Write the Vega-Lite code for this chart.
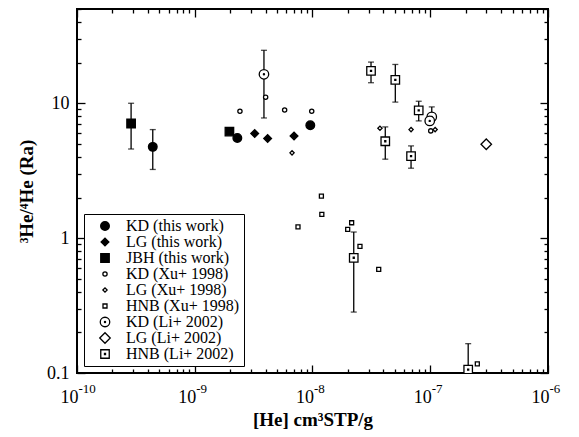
{
  "$schema": "https://vega.github.io/schema/vega-lite/v6.json",
  "width": 471,
  "height": 364,
  "autosize": "none",
  "padding": {"left": 77, "top": 9, "right": 31, "bottom": 64},
  "background": "white",
  "config": {
    "view": {"stroke": "black", "strokeWidth": 2},
    "font": "Liberation Serif",
    "axis": {"labelFont": "Liberation Serif", "titleFont": "Liberation Serif", "labelColor": "black", "titleColor": "black", "tickColor": "black", "grid": false, "domain": false, "tickWidth": 1.3}
  },
  "datasets": {
    "pts": [
      {"series": "KD (this work)", "he": 4.4e-10, "ratio": 4.75},
      {"series": "KD (this work)", "he": 2.3e-9, "ratio": 5.53},
      {"series": "KD (this work)", "he": 9.58e-9, "ratio": 6.87},
      {"series": "LG (this work)", "he": 3.23e-9, "ratio": 5.96},
      {"series": "LG (this work)", "he": 4.16e-9, "ratio": 5.48},
      {"series": "LG (this work)", "he": 6.97e-9, "ratio": 5.72},
      {"series": "JBH (this work)", "he": 2.88e-10, "ratio": 7.08},
      {"series": "JBH (this work)", "he": 1.97e-9, "ratio": 6.17},
      {"series": "KD (Xu+ 1998)", "he": 2.42e-9, "ratio": 8.73},
      {"series": "KD (Xu+ 1998)", "he": 4.0e-9, "ratio": 11.1},
      {"series": "KD (Xu+ 1998)", "he": 5.8e-9, "ratio": 8.92},
      {"series": "KD (Xu+ 1998)", "he": 9.85e-9, "ratio": 8.73},
      {"series": "KD (Xu+ 1998)", "he": 1.01e-7, "ratio": 6.24},
      {"series": "LG (Xu+ 1998)", "he": 6.7e-9, "ratio": 4.29},
      {"series": "LG (Xu+ 1998)", "he": 3.74e-8, "ratio": 6.53},
      {"series": "LG (Xu+ 1998)", "he": 6.87e-8, "ratio": 6.38},
      {"series": "LG (Xu+ 1998)", "he": 1.1e-7, "ratio": 6.38},
      {"series": "HNB (Xu+ 1998)", "he": 1.19e-8, "ratio": 2.05},
      {"series": "HNB (Xu+ 1998)", "he": 1.2e-8, "ratio": 1.5},
      {"series": "HNB (Xu+ 1998)", "he": 7.53e-9, "ratio": 1.21},
      {"series": "HNB (Xu+ 1998)", "he": 2.15e-8, "ratio": 1.3},
      {"series": "HNB (Xu+ 1998)", "he": 1.99e-8, "ratio": 1.16},
      {"series": "HNB (Xu+ 1998)", "he": 2.53e-8, "ratio": 0.87},
      {"series": "HNB (Xu+ 1998)", "he": 3.65e-8, "ratio": 0.586},
      {"series": "HNB (Xu+ 1998)", "he": 2.51e-7, "ratio": 0.117},
      {"series": "KD (Li+ 2002)", "he": 3.87e-9, "ratio": 16.4},
      {"series": "KD (Li+ 2002)", "he": 1.03e-7, "ratio": 7.92},
      {"series": "KD (Li+ 2002)", "he": 9.9e-8, "ratio": 7.4},
      {"series": "LG (Li+ 2002)", "he": 2.99e-7, "ratio": 4.97},
      {"series": "HNB (Li+ 2002)", "he": 3.14e-8, "ratio": 17.4},
      {"series": "HNB (Li+ 2002)", "he": 5.05e-8, "ratio": 14.9},
      {"series": "HNB (Li+ 2002)", "he": 4.15e-8, "ratio": 5.23},
      {"series": "HNB (Li+ 2002)", "he": 6.87e-8, "ratio": 4.05},
      {"series": "HNB (Li+ 2002)", "he": 7.98e-8, "ratio": 8.87},
      {"series": "HNB (Li+ 2002)", "he": 2.24e-8, "ratio": 0.715},
      {"series": "HNB (Li+ 2002)", "he": 2.1e-7, "ratio": 0.106}
    ],
    "err": [
      {"he": 2.88e-10, "lo": 4.58, "hi": 10},
      {"he": 4.4e-10, "lo": 3.23, "hi": 6.38},
      {"he": 3.87e-9, "lo": 7.78, "hi": 24.7},
      {"he": 3.14e-8, "lo": 14.2, "hi": 20.2},
      {"he": 5.05e-8, "lo": 10.2, "hi": 19.4},
      {"he": 4.15e-8, "lo": 3.85, "hi": 6.68},
      {"he": 6.87e-8, "lo": 3.3, "hi": 4.83},
      {"he": 7.98e-8, "lo": 7.4, "hi": 10.35},
      {"he": 1.03e-7, "lo": 7.5, "hi": 9.4},
      {"he": 2.24e-8, "lo": 0.283, "hi": 1.11},
      {"he": 2.1e-7, "lo": 0.07, "hi": 0.165}
    ]
  },
  "layer": [
    {
      "data": {"name": "err"},
      "mark": {"type": "rule", "color": "black", "strokeWidth": 1.3, "clip": true},
      "encoding": {
        "x": {"field": "he", "type": "quantitative", "scale": {"type": "log", "domain": [1e-10, 1e-6], "nice": false}, "axis": null},
        "y": {"field": "lo", "type": "quantitative", "scale": {"type": "log", "domain": [0.1, 50], "nice": false}, "axis": null},
        "y2": {"field": "hi"}
      }
    },
    {
      "data": {"name": "err"},
      "mark": {"type": "tick", "orient": "horizontal", "color": "black", "size": 6, "thickness": 1.3, "clip": true},
      "encoding": {
        "x": {"field": "he", "type": "quantitative", "axis": null},
        "y": {"field": "hi", "type": "quantitative", "axis": null}
      }
    },
    {
      "data": {"name": "err"},
      "mark": {"type": "tick", "orient": "horizontal", "color": "black", "size": 6, "thickness": 1.3, "clip": true},
      "encoding": {
        "x": {"field": "he", "type": "quantitative", "axis": null},
        "y": {"field": "lo", "type": "quantitative", "axis": null}
      }
    },
    {
      "data": {"name": "pts"},
      "mark": {"type": "point", "stroke": "black", "strokeWidth": 1.3, "opacity": 1, "clip": true},
      "encoding": {
        "x": {
          "field": "he", "type": "quantitative",
          "title": "[He] cm³STP/g",
          "axis": {
            "orient": "bottom",
            "values": [1e-10,2e-10,3e-10,4e-10,5e-10,6e-10,7e-10,8e-10,9e-10,1e-9,2e-9,3e-9,4e-9,5e-9,6e-9,7e-9,8e-9,9e-9,1e-8,2e-8,3e-8,4e-8,5e-8,6e-8,7e-8,8e-8,9e-8,1e-7,2e-7,3e-7,4e-7,5e-7,6e-7,7e-7,8e-7,9e-7,1e-6],
            "labelExpr": "abs(log(datum.value)/LN10 - round(log(datum.value)/LN10)) < 0.001 ? '10' : ''",
            "tickSize": {"condition": {"test": "abs(log(datum.value)/LN10 - round(log(datum.value)/LN10)) < 0.001", "value": -8}, "value": -4},
            "labelFontSize": 18,
            "labelPadding": 23,
            "labelAlign": "right",
            "labelOffset": 1,
            "labelFlush": false,
            "labelOverlap": false,
            "titleFontSize": 19,
            "titleFontWeight": "bold",
            "titlePadding": 0
          }
        },
        "y": {
          "field": "ratio", "type": "quantitative",
          "title": "³He/⁴He (Ra)",
          "axis": {
            "orient": "left",
            "values": [0.1,0.2,0.3,0.4,0.5,0.6,0.7,0.8,0.9,1,2,3,4,5,6,7,8,9,10,20,30,40,50],
            "labelExpr": "datum.value == 0.1 ? '0.1' : datum.value == 1 ? '1' : datum.value == 10 ? '10' : ''",
            "tickSize": {"condition": {"test": "abs(log(datum.value)/LN10 - round(log(datum.value)/LN10)) < 0.001", "value": -8}, "value": -4},
            "labelFontSize": 18,
            "labelPadding": 16,
            "labelFlush": false,
            "labelOverlap": false,
            "titleFontSize": 19,
            "titleFontWeight": "bold",
            "titlePadding": 10
          }
        },
        "shape": {
          "field": "series", "type": "nominal",
          "scale": {
            "domain": ["KD (this work)", "LG (this work)", "JBH (this work)", "KD (Xu+ 1998)", "LG (Xu+ 1998)", "HNB (Xu+ 1998)", "KD (Li+ 2002)", "LG (Li+ 2002)", "HNB (Li+ 2002)"],
            "range": ["circle", "diamond", "square", "circle", "diamond", "square",
              "M-1,0A1,1 0 1,1 1,0A1,1 0 1,1 -1,0Z M-0.12,0A0.12,0.12 0 1,1 0.12,0A0.12,0.12 0 1,1 -0.12,0Z",
              "diamond",
              "M-1,-1H1V1H-1Z M-0.12,-0.12H0.12V0.12H-0.12Z"]
          },
          "legend": {
            "orient": "bottom-left", "offset": 7, "title": null,
            "strokeColor": "black", "fillColor": "white", "padding": 4,
            "labelFont": "Liberation Serif", "labelFontSize": 16, "labelColor": "black",
            "rowPadding": -0.5, "symbolStrokeWidth": 1.3, "symbolStrokeColor": "black",
            "symbolOffset": 9, "labelOffset": 13
          }
        },
        "size": {
          "field": "series", "type": "nominal",
          "scale": {
            "type": "ordinal",
            "domain": ["KD (this work)", "LG (this work)", "JBH (this work)", "KD (Xu+ 1998)", "LG (Xu+ 1998)", "HNB (Xu+ 1998)", "KD (Li+ 2002)", "LG (Li+ 2002)", "HNB (Li+ 2002)"],
            "range": [75, 60, 72, 18, 18, 16, 90, 110, 72]
          }
        },
        "fill": {
          "field": "series", "type": "nominal",
          "scale": {
            "domain": ["KD (this work)", "LG (this work)", "JBH (this work)", "KD (Xu+ 1998)", "LG (Xu+ 1998)", "HNB (Xu+ 1998)", "KD (Li+ 2002)", "LG (Li+ 2002)", "HNB (Li+ 2002)"],
            "range": ["black", "black", "black", "white", "white", "white", "white", "white", "white"]
          }
        }
      }
    },
    {
      "data": {"name": "pts"},
      "mark": {"type": "point", "opacity": 0},
      "encoding": {
        "x": {
          "field": "he", "type": "quantitative",
          "axis": {
            "orient": "bottom", "title": null, "ticks": false,
            "values": [1e-10,1e-9,1e-8,1e-7,1e-6],
            "labelExpr": "['-10','-9','-8','-7','-6'][round(log(datum.value)/LN10)+10]",
            "labelFontSize": 13,
            "labelPadding": 9,
            "labelAlign": "left",
            "labelOffset": 1,
            "labelFlush": false,
            "labelOverlap": false
          }
        }
      }
    },
    {
      "data": {"name": "pts"},
      "mark": {"type": "point", "opacity": 0},
      "encoding": {
        "x": {
          "field": "he", "type": "quantitative",
          "axis": {
            "orient": "top", "title": null, "labels": false,
            "values": [1e-10,2e-10,3e-10,4e-10,5e-10,6e-10,7e-10,8e-10,9e-10,1e-9,2e-9,3e-9,4e-9,5e-9,6e-9,7e-9,8e-9,9e-9,1e-8,2e-8,3e-8,4e-8,5e-8,6e-8,7e-8,8e-8,9e-8,1e-7,2e-7,3e-7,4e-7,5e-7,6e-7,7e-7,8e-7,9e-7,1e-6],
            "tickSize": {"condition": {"test": "abs(log(datum.value)/LN10 - round(log(datum.value)/LN10)) < 0.001", "value": -8}, "value": -4}
          }
        },
        "y": {
          "field": "ratio", "type": "quantitative",
          "axis": {
            "orient": "right", "title": null, "labels": false,
            "values": [0.1,0.2,0.3,0.4,0.5,0.6,0.7,0.8,0.9,1,2,3,4,5,6,7,8,9,10,20,30,40,50],
            "tickSize": {"condition": {"test": "abs(log(datum.value)/LN10 - round(log(datum.value)/LN10)) < 0.001", "value": -8}, "value": -4}
          }
        }
      }
    }
  ],
  "resolve": {"axis": {"x": "independent", "y": "independent"}}
}
